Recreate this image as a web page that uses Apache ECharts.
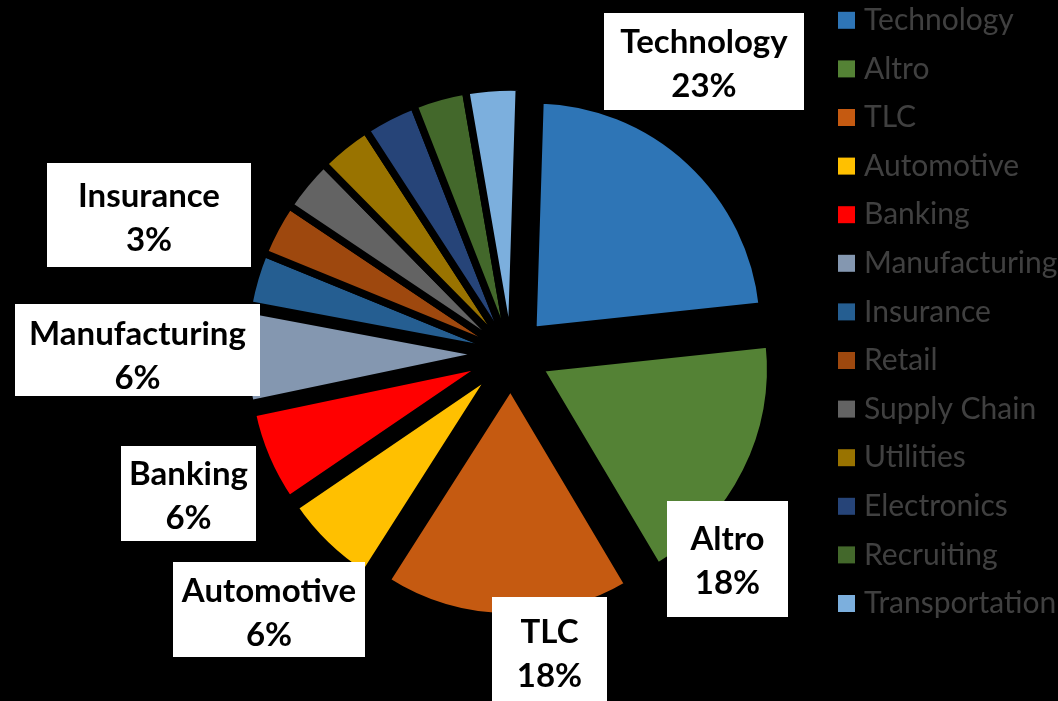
<!DOCTYPE html>
<html><head><meta charset="utf-8">
<script src="https://cdn.jsdelivr.net/npm/echarts@6/dist/echarts.min.js"></script>
<style>html,body{margin:0;padding:0;background:#000;} #chart{width:1058px;height:701px;}</style>
</head><body><div id="chart"></div>
<script>
// ---- data ----
const categories = ['Technology','Altro','TLC','Automotive','Banking','Manufacturing','Insurance','Retail','Supply Chain','Utilities','Electronics','Recruiting','Transportation'];
const shares = [22.8, 18.17, 17.56, 6.45, 6.22, 6.25, 3.22, 3.22, 3.22, 3.22, 3.22, 3.22, 3.22];
const labelledCategories = ['Technology','Altro','TLC','Automotive','Banking','Manufacturing','Insurance'];

// ---- style ----
const colors = ['#2E75B6','#548235','#C55A11','#FFC000','#FF0000','#8497B0','#255E91','#9E480E','#636363','#997300','#264478','#43682B','#7CAFDD'];
const explodeGroups = [
  {members: ['Technology','Altro','TLC'], radius: 231, offset: 32},
  {members: ['Automotive','Banking','Manufacturing'], radius: 242, offset: 24},
  {members: ['Insurance','Retail','Supply Chain','Utilities','Electronics','Recruiting','Transportation'], radius: 267, offset: 0}
];
const labelBoxes = {
  'Technology':    {x: 704,   y: 61.5,  w: 200, h: 97,  ty: 3},
  'Altro':         {x: 727.5, y: 559,   w: 121, h: 116, ty: 2.5},
  'TLC':           {x: 549.5, y: 653,   w: 115, h: 112, ty: 1},
  'Automotive':    {x: 269,   y: 609.5, w: 192, h: 95,  ty: 3.5},
  'Banking':       {x: 188.5, y: 493.5, w: 135, h: 95,  ty: 3},
  'Manufacturing': {x: 137.5, y: 350,   w: 245, h: 92,  ty: 6},
  'Insurance':     {x: 149,   y: 215,   w: 204, h: 104, ty: 3}
};
const CENTER = [511, 354];
const START = 88.2;
const BORDER = 7.5;
const LINE_H = 44;

const total = shares.reduce((a, b) => a + b, 0);
const hiddenStyle = {color: 'rgba(0,0,0,0)', borderWidth: 0};

const series = explodeGroups.map(g => ({
  type: 'pie',
  center: CENTER,
  radius: [0, g.radius],
  startAngle: START,
  clockwise: true,
  animation: false,
  avoidLabelOverlap: false,
  selectedMode: 'multiple',
  selectedOffset: g.offset,
  labelLine: {show: false},
  label: {show: false},
  emphasis: {disabled: true},
  data: categories.map((name, i) => {
    const member = g.members.indexOf(name) >= 0;
    if (!member) {
      return {value: shares[i], name: '', itemStyle: hiddenStyle};
    }
    const st = {color: colors[i], borderColor: '#000', borderWidth: BORDER};
    return {value: shares[i], name: name, selected: g.offset > 0, itemStyle: st, select: {itemStyle: st}};
  })
}));

// label-only series (transparent slices) carrying the data labels
series.push({
  type: 'pie',
  center: CENTER,
  radius: [0, 267],
  startAngle: START,
  clockwise: true,
  animation: false,
  silent: true,
  avoidLabelOverlap: false,
  labelLine: {show: false},
  emphasis: {disabled: true},
  label: {
    position: 'outside',
    color: '#000',
    fontFamily: 'Lato',
    fontWeight: 'bold',
    fontSize: 33,
    lineHeight: LINE_H,
    backgroundColor: '#fff',
    overflow: 'none',
    formatter: p => categories[p.dataIndex] + '\n' + Math.round(shares[p.dataIndex] / total * 100) + '%'
  },
  labelLayout: function (params) {
    const b = labelBoxes[categories[params.dataIndex]];
    if (!b) return {};
    return {x: b.x, y: b.y - b.h / 2, align: 'center', verticalAlign: 'top', hideOverlap: false};
  },
  data: categories.map((name, i) => {
    const b = labelBoxes[name];
    const show = labelledCategories.indexOf(name) >= 0 && !!b;
    if (!show) return {value: shares[i], name: '', itemStyle: hiddenStyle, label: {show: false}};
    const half = (b.h - 2 * LINE_H) / 2;
    return {
      value: shares[i], name: '', itemStyle: hiddenStyle,
      label: {show: true, width: b.w, padding: [half + b.ty, 0, half - b.ty, 0]}
    };
  })
});

const chart = echarts.init(document.getElementById('chart'), null, {renderer: 'canvas'});
chart.setOption({
  backgroundColor: '#000',
  animation: false,
  legend: {
    orient: 'vertical',
    left: 838,
    top: 5.3,
    padding: 0,
    itemWidth: 17,
    itemHeight: 17,
    itemGap: 18.6,
    selectedMode: false,
    icon: 'rect',
    itemStyle: {borderWidth: 0},
    data: categories,
    textStyle: {color: '#404040', fontFamily: 'Lato', fontSize: 30, lineHeight: 30, padding: [0, 0, 0, 4]}
  },
  series: series
});
</script>
</body></html>
